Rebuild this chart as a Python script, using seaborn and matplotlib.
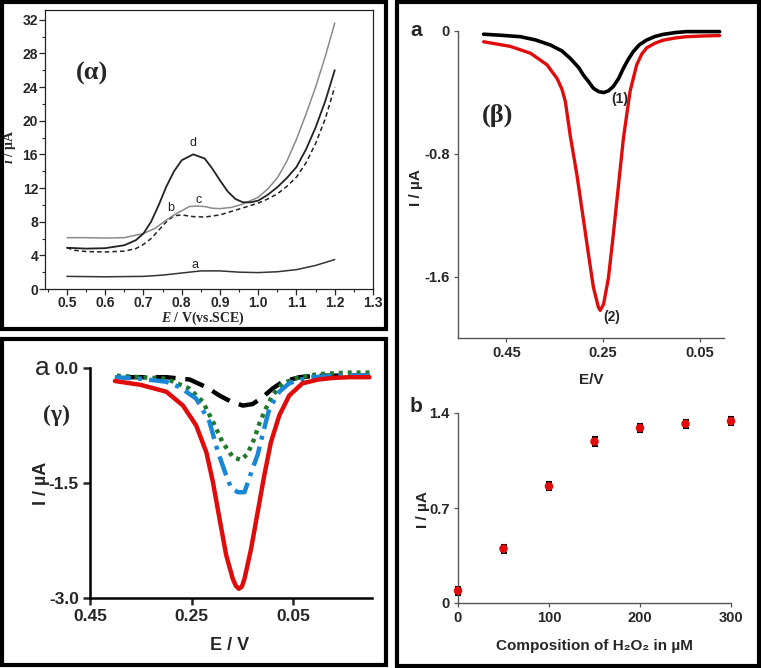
import numpy as np
import pandas as pd
import matplotlib
matplotlib.use("Agg")
import matplotlib.pyplot as plt
import seaborn as sns
from matplotlib.patches import Rectangle
from matplotlib.ticker import MultipleLocator, FixedLocator

# ---------------- data: panel (alpha) ----------------
alpha_E_a = [0.50, 0.60, 0.70, 0.75, 0.80, 0.85, 0.90, 0.95, 1.00, 1.05, 1.10, 1.15, 1.20]
alpha_I_a = [1.50, 1.45, 1.50, 1.65, 1.90, 2.15, 2.15, 2.00, 1.95, 2.05, 2.30, 2.80, 3.50]

alpha_E_d = [0.50, 0.55, 0.60, 0.65, 0.68, 0.70, 0.72, 0.74, 0.76, 0.78, 0.80, 0.83, 0.86,
             0.88, 0.90, 0.92, 0.94, 0.96, 0.98, 1.00, 1.025, 1.05, 1.075, 1.10, 1.125,
             1.15, 1.175, 1.20]
alpha_I_d = [4.9, 4.8, 4.85, 5.2, 5.8, 6.6, 8.0, 10.0, 12.2, 14.0, 15.3, 16.0, 15.5,
             14.3, 12.9, 11.6, 10.7, 10.3, 10.3, 10.5, 11.2, 12.1, 13.2, 14.5, 16.6,
             19.2, 22.3, 26.0]

alpha_E_c = [0.50, 0.55, 0.60, 0.65, 0.70, 0.73, 0.76, 0.78, 0.80, 0.82, 0.84, 0.86, 0.88,
             0.90, 0.93, 0.96, 1.00, 1.025, 1.05, 1.075, 1.10, 1.125, 1.15, 1.175, 1.20]
alpha_I_c = [6.1, 6.1, 6.05, 6.1, 6.6, 7.2, 8.2, 8.8, 9.3, 9.8, 9.85, 9.8, 9.6,
             9.55, 9.7, 10.1, 10.9, 11.9, 13.2, 15.2, 17.8, 20.8, 24.0, 27.6, 31.6]

alpha_E_b = [0.50, 0.52, 0.55, 0.60, 0.65, 0.68, 0.70, 0.72, 0.74, 0.76, 0.78, 0.80, 0.83,
             0.86, 0.90, 0.95, 1.00, 1.025, 1.05, 1.075, 1.10, 1.125, 1.15, 1.175, 1.20]
alpha_I_b = [4.9, 4.6, 4.45, 4.4, 4.5, 4.8, 5.3, 6.0, 7.0, 8.0, 8.7, 8.8, 8.6,
             8.55, 8.8, 9.5, 10.2, 10.7, 11.3, 12.2, 13.3, 15.0, 17.3, 20.2, 24.0]

# ---------------- data: panel (beta) a ----------------
beta_E_1 = [0.497, 0.46, 0.421, 0.39, 0.359, 0.335, 0.318, 0.30, 0.291, 0.28, 0.270,
            0.259, 0.249, 0.239, 0.229, 0.218, 0.208, 0.198, 0.1875, 0.175, 0.160,
            0.143, 0.126, 0.10, 0.0775, 0.04, 0.009]
beta_I_1 = [-0.021, -0.028, -0.037, -0.058, -0.091, -0.13, -0.178, -0.24, -0.286, -0.33,
            -0.373, -0.395, -0.401, -0.39, -0.362, -0.31, -0.243, -0.185, -0.134, -0.09,
            -0.059, -0.036, -0.022, -0.01, -0.004, -0.004, -0.004]

beta_E_2 = [0.497, 0.442, 0.40, 0.366, 0.345, 0.335, 0.328, 0.318, 0.304, 0.291, 0.280,
            0.270, 0.2597, 0.256, 0.249, 0.239, 0.229, 0.218, 0.208, 0.200, 0.194,
            0.1805, 0.170, 0.160, 0.143, 0.126, 0.10, 0.0775, 0.04, 0.009]
beta_I_2 = [-0.07, -0.10, -0.145, -0.22, -0.31, -0.38, -0.46, -0.68, -0.94, -1.22, -1.46,
            -1.67, -1.80, -1.82, -1.78, -1.61, -1.33, -1.00, -0.70, -0.52, -0.39,
            -0.22, -0.15, -0.11, -0.08, -0.06, -0.045, -0.037, -0.032, -0.03]

# ---------------- data: panel (beta) b ----------------
h2o2_conc = [0, 50, 100, 150, 200, 250, 300]
h2o2_current = [0.09, 0.40, 0.86, 1.19, 1.29, 1.32, 1.34]
h2o2_err = [0.03, 0.03, 0.03, 0.03, 0.03, 0.03, 0.03]

# ---------------- data: panel (gamma) ----------------
gam_E_red = [0.401, 0.35, 0.2996, 0.267, 0.241, 0.221, 0.208, 0.195, 0.182, 0.169, 0.163,
             0.157, 0.151, 0.146, 0.133, 0.120, 0.107, 0.094, 0.0775, 0.058, 0.032, 0.0,
             -0.027, -0.06, -0.10]
gam_I_red = [-0.17, -0.22, -0.31, -0.49, -0.75, -1.10, -1.49, -1.97, -2.44, -2.75, -2.84,
             -2.88, -2.85, -2.75, -2.36, -1.88, -1.40, -0.97, -0.62, -0.36, -0.20, -0.15,
             -0.13, -0.12, -0.12]

gam_E_blue = [0.401, 0.35, 0.2996, 0.2735, 0.241, 0.215, 0.198, 0.182, 0.172, 0.159, 0.146,
              0.130, 0.120, 0.110, 0.097, 0.0775, 0.058, 0.035, 0.012, -0.04, -0.10]
gam_I_blue = [-0.12, -0.14, -0.18, -0.25, -0.40, -0.70, -1.10, -1.40, -1.57, -1.62, -1.62,
              -1.31, -1.13, -0.86, -0.53, -0.31, -0.20, -0.15, -0.12, -0.10, -0.10]

gam_E_green = [0.401, 0.35, 0.2996, 0.254, 0.228, 0.208, 0.189, 0.169, 0.153, 0.140, 0.1265,
               0.117, 0.104, 0.091, 0.071, 0.038, 0.0, -0.027, -0.06, -0.10]
gam_I_green = [-0.10, -0.12, -0.14, -0.27, -0.44, -0.70, -0.97, -1.16, -1.20, -1.12, -0.92,
               -0.73, -0.53, -0.36, -0.20, -0.12, -0.08, -0.07, -0.06, -0.06]

gam_E_black = [0.401, 0.35, 0.30, 0.254, 0.221, 0.195, 0.172, 0.149, 0.130, 0.110, 0.091,
               0.071, 0.038, 0.0, -0.05, -0.10]
gam_I_black = [-0.12, -0.12, -0.12, -0.15, -0.25, -0.36, -0.44, -0.49, -0.47, -0.38, -0.27,
               -0.18, -0.12, -0.10, -0.10, -0.10]

# ---------------- style ----------------
sns.set_style("ticks")
SANS = ['Liberation Sans', 'DejaVu Sans']
SERIF = ['Liberation Serif', 'DejaVu Serif']
plt.rcParams['font.family'] = SANS
plt.rcParams['axes.unicode_minus'] = False
plt.rcParams['mathtext.fontset'] = 'custom'
plt.rcParams['mathtext.it'] = 'Liberation Serif:italic:bold'
plt.rcParams['mathtext.rm'] = 'Liberation Serif:bold'
plt.rcParams['xtick.direction'] = 'out'
plt.rcParams['ytick.direction'] = 'out'

W, H = 761, 668
fig = plt.figure(figsize=(W / 100, H / 100), dpi=100)


def box(l, t, r, b):
    return [l / W, 1 - b / H, (r - l) / W, (b - t) / H]


def fx(x):
    return x / W


def fy(y):
    return 1 - y / H


# panel borders
for (l, t, r, b) in [(2, 2, 386, 329), (2, 339, 386, 665), (397, 2, 759, 666)]:
    fig.patches.append(Rectangle((l / W, 1 - b / H), (r - l) / W, (b - t) / H,
                                 transform=fig.transFigure, fill=False,
                                 edgecolor='black', linewidth=3.0, zorder=10))

# ================= panel alpha =================
axA = fig.add_axes(box(45, 10, 373, 289))
for E, I, ls, col, lw in [(alpha_E_a, alpha_I_a, '-', '#333333', 1.1),
                          (alpha_E_b, alpha_I_b, (0, (3, 2)), '#222222', 1.1),
                          (alpha_E_c, alpha_I_c, '-', '#8a8a8a', 1.1),
                          (alpha_E_d, alpha_I_d, '-', '#222222', 1.3)]:
    sns.lineplot(x=E, y=I, ax=axA, color=col, linewidth=lw, linestyle=ls, legend=False)
axA.set_xlim(0.4425, 1.3)
axA.set_ylim(0, 33.15)
axA.xaxis.set_major_locator(FixedLocator([0.5, 0.6, 0.7, 0.8, 0.9, 1.0, 1.1, 1.2, 1.3]))
axA.xaxis.set_minor_locator(MultipleLocator(0.05))
axA.yaxis.set_major_locator(MultipleLocator(4))
axA.yaxis.set_minor_locator(MultipleLocator(2))
axA.set_xticklabels(['0.5', '0.6', '0.7', '0.8', '0.9', '1.0', '1.1', '1.2', '1.3'])
axA.tick_params(which='major', length=4, width=0.9, labelsize=10, pad=1,
                bottom=True, left=True, top=False, right=False)
axA.tick_params(which='minor', length=2, width=0.8, bottom=True, left=True,
                top=False, right=False)
for lab in axA.get_xticklabels() + axA.get_yticklabels():
    lab.set_fontweight('bold')
for s in axA.spines.values():
    s.set_linewidth(0.9)
    s.set_color('#222222')
axA.set_xlabel(r"$E$ / V(vs.SCE)", fontsize=10, fontweight='bold', family=SERIF)
axA.set_ylabel(r"$i$ / µA", fontsize=10, fontweight='bold', family=SERIF)
axA.xaxis.set_label_coords(0.482, -0.074)
axA.yaxis.set_label_coords(-0.082, 0.51)
for t, x, y in [('d', 0.83, 17.3), ('c', 0.845, 10.6), ('b', 0.77, 9.6), ('a', 0.835, 2.8)]:
    axA.text(x, y, t, fontsize=9, ha='center', va='center', color='#222222')
axA.text(0.565, 25.6, "(α)", fontsize=19, fontweight='bold', family=SERIF,
         ha='center', va='center')

# ================= panel beta a =================
axB = fig.add_axes(box(458, 31, 724, 338))
sns.lineplot(x=beta_E_1, y=beta_I_1, ax=axB, color='black', linewidth=2.6, legend=False,
             clip_on=False)
sns.lineplot(x=beta_E_2, y=beta_I_2, ax=axB, color='#e00c0c', linewidth=2.4, legend=False,
             clip_on=False)
axB.set_xlim(0.55, 0.0)
axB.set_ylim(-2.0, 0.0)
axB.set_xticks([0.45, 0.25, 0.05])
axB.set_xticklabels(['0.45', '0.25', '0.05'])
axB.set_yticks([0.0, -0.8, -1.6])
axB.set_yticklabels(['0', '-0.8', '-1.6'])
sns.despine(ax=axB)
for s in axB.spines.values():
    s.set_color('#555555')
    s.set_linewidth(1.0)
axB.tick_params(length=3, width=0.9, color='#555555', labelsize=10.5, pad=3)
for lab in axB.get_xticklabels() + axB.get_yticklabels():
    lab.set_fontweight('bold')
axB.set_xlabel("E/V", fontsize=11, fontweight='bold')
axB.set_ylabel("I / µA", fontsize=11, fontweight='bold')
axB.xaxis.set_label_coords(0.5, -0.114)
axB.yaxis.set_label_coords(-0.13, 0.489)
axB.text(0.215, -0.44, "(1)", fontsize=10, fontweight='bold', ha='center', va='center')
axB.text(0.232, -1.86, "(2)", fontsize=10, fontweight='bold', ha='center', va='center')
axB.text(0.469, -0.55, "(β)", fontsize=19, fontweight='bold', family=SERIF,
         ha='center', va='center')
fig.text(fx(416), fy(31), "a", fontsize=15, fontweight='bold', ha='center', va='center')

# ================= panel beta b =================
axC = fig.add_axes(box(458, 413, 731, 603))
axC.errorbar(h2o2_conc, h2o2_current, yerr=h2o2_err, fmt='none', ecolor='black',
             elinewidth=1.8, capsize=2.5, capthick=1.5, zorder=2, clip_on=False)
sns.scatterplot(x=h2o2_conc, y=h2o2_current, ax=axC, color='#e00c0c', s=38,
                edgecolor='none', zorder=3, legend=False, clip_on=False)
axC.set_xlim(0, 300)
axC.set_ylim(0, 1.4)
axC.set_xticks([0, 100, 200, 300])
axC.set_yticks([0, 0.7, 1.4])
axC.set_yticklabels(['0', '0.7', '1.4'])
sns.despine(ax=axC)
for s in axC.spines.values():
    s.set_color('#555555')
    s.set_linewidth(1.0)
axC.tick_params(length=3, width=0.9, color='#555555', labelsize=10.5, pad=3)
for lab in axC.get_xticklabels() + axC.get_yticklabels():
    lab.set_fontweight('bold')
axC.set_xlabel("Composition of H₂O₂ in µM", fontsize=11, fontweight='bold')
axC.set_ylabel("I / µA", fontsize=11, fontweight='bold')
axC.xaxis.set_label_coords(0.498, -0.19)
axC.yaxis.set_label_coords(-0.104, 0.49)
fig.text(fx(416), fy(406), "b", fontsize=15, fontweight='bold', ha='center', va='center')

# ================= panel gamma =================
axG = fig.add_axes(box(90, 368, 372, 598))
sns.lineplot(x=gam_E_black, y=gam_I_black, ax=axG, color='black', linewidth=3.2,
             linestyle=(0, (4.5, 2.2)), legend=False)
sns.lineplot(x=gam_E_green, y=gam_I_green, ax=axG, color='#1f7a2c', linewidth=3.2,
             linestyle=(0, (0.9, 1.1)), legend=False)
sns.lineplot(x=gam_E_blue, y=gam_I_blue, ax=axG, color='#1a87d6', linewidth=3.2,
             linestyle=(0, (4.5, 1.6, 0.9, 1.6)), legend=False)
sns.lineplot(x=gam_E_red, y=gam_I_red, ax=axG, color='#e00c0c', linewidth=3.2, legend=False)
axG.set_xlim(0.45, -0.105)
axG.set_ylim(-3.0, 0.0)
axG.set_xticks([0.45, 0.25, 0.05])
axG.set_xticklabels(['0.45', '0.25', '0.05'])
axG.set_yticks([0.0, -1.5, -3.0])
axG.set_yticklabels(['0.0', '-1.5', '-3.0'])
sns.despine(ax=axG)
for s in axG.spines.values():
    s.set_color('black')
    s.set_linewidth(1.8)
axG.tick_params(length=5, width=1.8, labelsize=12.5, pad=3)
for lab in axG.get_xticklabels() + axG.get_yticklabels():
    lab.set_fontweight('bold')
axG.set_xlabel("E / V", fontsize=13, fontweight='bold')
axG.set_ylabel("I / µA", fontsize=13, fontweight='bold')
axG.xaxis.set_label_coords(0.496, -0.17)
axG.yaxis.set_label_coords(-0.142, 0.5)
fig.text(fx(42.7), fy(368), "a", fontsize=19, ha='center', va='center')
fig.text(fx(57), fy(415), "(γ)", fontsize=17, fontweight='bold', family=SERIF,
         ha='center', va='center')

fig.savefig("out.png", dpi=100)
